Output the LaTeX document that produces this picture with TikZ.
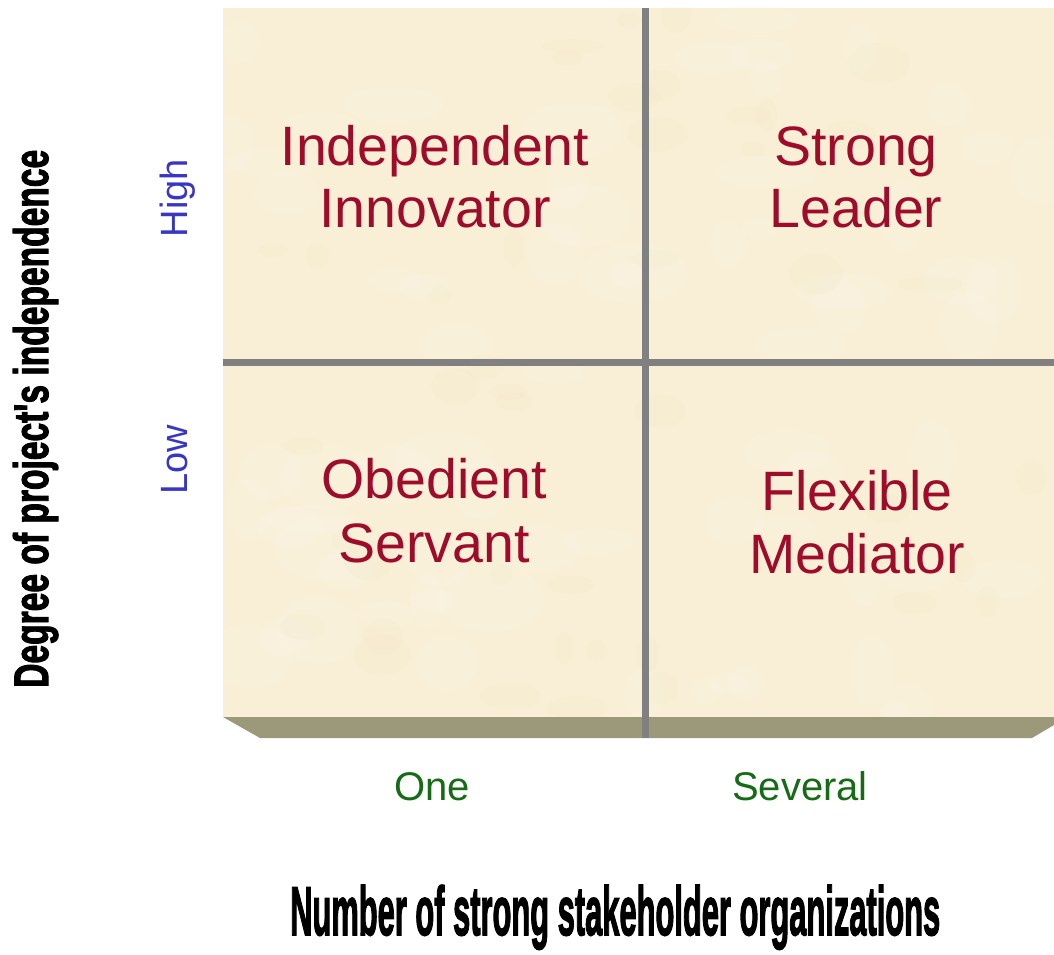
\documentclass[tikz,border=0pt]{standalone}
\usepackage{fontspec}
\setmainfont{Liberation Sans}
\newfontfamily\titlefont{Liberation Sans}[BoldFeatures={FakeBold=2.5}]
\definecolor{boardfill}{RGB}{249,239,215}
\definecolor{boardlight}{RGB}{253,247,233}
\definecolor{boarddark}{RGB}{240,224,190}
\definecolor{edgefill}{RGB}{156,152,122}
\definecolor{gridgray}{RGB}{128,128,128}
\definecolor{quadred}{RGB}{158,12,42}
\definecolor{axisblue}{RGB}{55,55,195}
\definecolor{axisgreen}{RGB}{22,108,22}
\tikzset{
  quadtext/.style={text=quadred, font=\fontsize{55.5}{62}\selectfont, anchor=base, inner sep=0pt},
  leveltext/.style={text=axisblue, font=\fontsize{38}{44}\selectfont, anchor=base, inner sep=0pt, rotate=90},
  counttext/.style={text=axisgreen, font=\fontsize{40}{46}\selectfont, anchor=base, inner sep=0pt},
  titletext/.style={text=black, anchor=base west, inner sep=0pt},
  gridline/.style={draw=gridgray, line width=7pt},
  lightblotch/.style={fill=boardlight, opacity=0.22},
  darkblotch/.style={fill=boarddark, opacity=0.12},
}
\begin{document}
\begin{tikzpicture}[x=1pt,y=-1pt]
\useasboundingbox (0,0) rectangle (1054,955);
\fill[white] (0,0) rectangle (1054,955);
% board
\fill[boardfill] (223,8) rectangle (1054,717);
\begin{scope}
  \clip (223,8) rectangle (1054,717);
  \pgfmathsetseed{7}
  \foreach \i in {1,...,70}{
    \pgfmathsetmacro{\bx}{223+831*rnd}
    \pgfmathsetmacro{\by}{8+709*rnd}
    \pgfmathsetmacro{\ba}{15+40*rnd}
    \pgfmathsetmacro{\bb}{10+25*rnd}
    \fill[lightblotch] (\bx,\by) ellipse ({\ba} and {\bb});
  }
  \foreach \i in {1,...,45}{
    \pgfmathsetmacro{\bx}{223+831*rnd}
    \pgfmathsetmacro{\by}{8+709*rnd}
    \pgfmathsetmacro{\ba}{8+25*rnd}
    \pgfmathsetmacro{\bb}{6+15*rnd}
    \fill[darkblotch] (\bx,\by) ellipse ({\ba} and {\bb});
  }
\end{scope}
\fill[edgefill] (223,717) -- (1054,717) -- (1054,725) -- (1032,738) -- (260,738) -- cycle;
% grid
\coordinate (vtop) at (645,8);
\coordinate (vbot) at (645,738);
\coordinate (hleft) at (223,362);
\coordinate (hright) at (1054,362);
\draw[gridline] (vtop) -- (vbot);
\draw[gridline] (hleft) -- (hright);
% quadrant labels
\node[quadtext] (ii1) at (435,165) {Independent};
\node[quadtext] (ii2) at (435,227) {Innovator};
\node[quadtext] (sl1) at (856,165) {Strong};
\node[quadtext] (sl2) at (856,227) {Leader};
\node[quadtext] (os1) at (434,498) {Obedient};
\node[quadtext] (os2) at (434,562) {Servant};
\node[quadtext] (fm1) at (857,510) {Flexible};
\node[quadtext] (fm2) at (857,573) {Mediator};
% axis levels
\node[leveltext] (high) at (187,198) {High};
\node[leveltext] (low) at (187,460) {Low};
\node[counttext] (one) at (432,800) {One};
\node[counttext] (several) at (800,800) {Several};
% axis titles
\node[titletext, rotate=90] (ytitle) at (48,688) {\resizebox{538pt}{35pt}{\titlefont\bfseries Degree of project's independence}};
\node[titletext] (xtitle) at (290,935) {\resizebox{650pt}{50pt}{\titlefont\bfseries Number of strong stakeholder organizations}};
\end{tikzpicture}
\end{document}
